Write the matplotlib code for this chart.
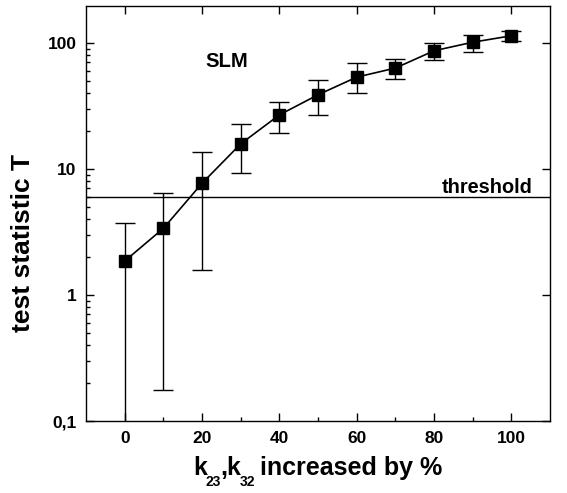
import matplotlib
matplotlib.use("Agg")
import matplotlib.pyplot as plt
from matplotlib.ticker import FixedLocator, FuncFormatter, NullFormatter, LogLocator
import numpy as np

x_percent = [0, 10, 20, 30, 40, 50, 60, 70, 80, 90, 100]
T_values = [1.86, 3.38, 7.7, 15.8, 26.8, 38.7, 53.4, 63.0, 86.4, 101.0, 113.6]
T_upper = [3.75, 6.48, 13.6, 22.5, 34.2, 50.6, 69.0, 74.3, 99.5, 116.0, 125.0]
T_lower = [0.05, 0.176, 1.58, 9.2, 19.2, 26.5, 39.9, 52.0, 73.3, 84.8, 103.0]
threshold = 6.0

plt.rcParams['font.family'] = ['Liberation Sans', 'DejaVu Sans']
plt.rcParams['font.weight'] = 'bold'

fig = plt.figure(figsize=(5.67, 4.93), dpi=100)
ax = fig.add_axes([0.152, 0.146, 0.818, 0.842])

vals = np.array(T_values)
yerr = np.vstack([vals - np.array(T_lower), np.array(T_upper) - vals])
ax.errorbar(x_percent, T_values, yerr=yerr, fmt='s-', color='black',
            markersize=8.5, linewidth=1.2, elinewidth=1.0, capsize=7.5,
            capthick=1.0)
ax.axhline(threshold, color='black', linewidth=1.0)

ax.set_yscale('log')
ax.set_xlim(-10, 110)
ax.set_ylim(0.1, 196)

ax.xaxis.set_major_locator(FixedLocator([0, 20, 40, 60, 80, 100]))
ax.xaxis.set_minor_locator(FixedLocator([10, 30, 50, 70, 90]))
ax.yaxis.set_major_locator(FixedLocator([0.1, 1, 10, 100]))
ax.yaxis.set_minor_locator(LogLocator(base=10, subs=np.arange(2, 10)))
ax.yaxis.set_minor_formatter(NullFormatter())

def yfmt(v, pos):
    if v < 1:
        return "0,1"
    return f"{int(round(v))}"
ax.yaxis.set_major_formatter(FuncFormatter(yfmt))

ax.tick_params(axis='both', which='major', direction='in', length=6, width=1.0,
               labelsize=12.5, top=True, right=True, pad=7)
ax.tick_params(axis='x', which='minor', direction='in', length=3, width=1.0, top=False)
ax.tick_params(axis='y', which='minor', direction='in', length=3, width=1.0, right=False)
for lab in ax.get_xticklabels() + ax.get_yticklabels():
    lab.set_fontweight('bold')
for s in ax.spines.values():
    s.set_linewidth(1.0)

# y label
ax.set_ylabel("test statistic T", fontsize=19, fontweight='bold')
ax.yaxis.set_label_coords(-0.110, 0.428)

# x label built from pieces (small subscripts)
x0 = 193 / 567.0
yb = 1 - 475 / 493.0
main_fs = 18
sub_fs = 10
pieces = [("k", main_fs, 0, 0), ("23", sub_fs, -1.2, -8.0), (",k", main_fs, -0.3, 0),
          ("32", sub_fs, -1.2, -8.0), (" increased by %", main_fs, -1.3, 0)]
prev = fig.text(x0, yb, pieces[0][0], fontsize=pieces[0][1], fontweight='bold',
                ha='left', va='baseline')
for txt, fs, dx, dy in pieces[1:]:
    prev = ax.annotate(txt, xy=(1, yb), xycoords=(prev, 'figure fraction'),
                       xytext=(dx, dy), textcoords='offset points',
                       fontsize=fs, fontweight='bold', ha='left', va='baseline',
                       annotation_clip=False)

ax.text(26.5, 64.5, "SLM", fontsize=14.6, fontweight='bold', ha='center', va='baseline')
ax.text(105.4, 6.45, "threshold", fontsize=14.4, fontweight='bold', ha='right', va='baseline')

fig.savefig("out.png", dpi=100)
